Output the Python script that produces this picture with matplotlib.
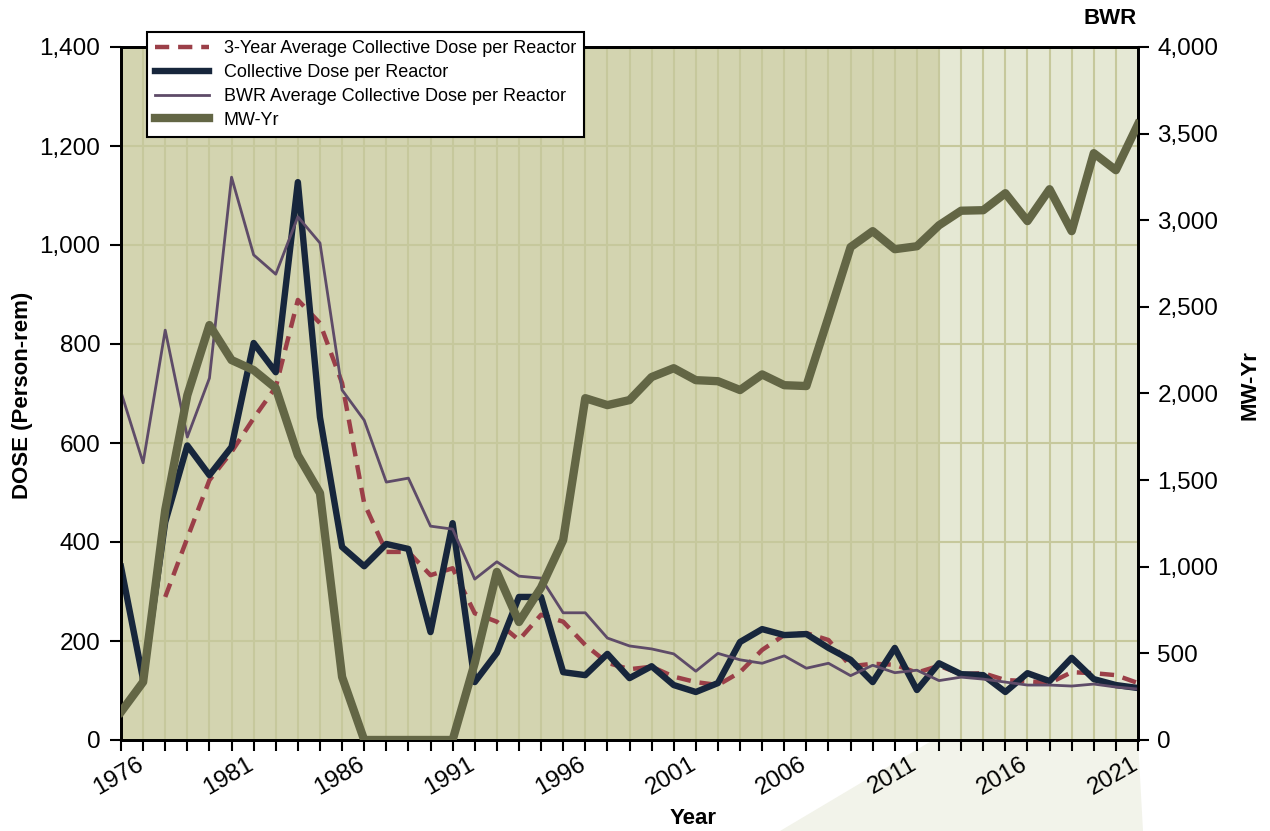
import matplotlib
matplotlib.use('Agg')
import matplotlib.pyplot as plt
from matplotlib.patches import Polygon
from matplotlib.transforms import ScaledTranslation

plt.rcParams['font.family'] = ['Liberation Sans', 'DejaVu Sans']

# 数据 (1975-2021)
years = list(range(1975, 2022))

dose_per_reactor = [350, 122, 440, 595, 535, 592, 802, 743, 1127, 652,
                    390, 351, 396, 386, 218, 438, 117, 176, 289, 289,
                    137, 131, 174, 125, 149, 111, 97, 115, 198, 224,
                    212, 214, 186, 162, 117, 186, 101, 155, 133, 131,
                    97, 135, 119, 166, 123, 111, 105]

bwr_average = [703, 560, 828, 612, 731, 1137, 980, 941, 1057, 1004,
               707, 646, 521, 529, 432, 426, 325, 360, 331, 327,
               257, 257, 206, 190, 184, 174, 139, 175, 162, 155,
               170, 145, 155, 130, 151, 136, 141, 120, 127, 123,
               117, 111, 111, 109, 113, 107, 103]

avg3_years = years[2:]
avg3_dose = [289, 408, 525, 582, 650, 713, 889, 842,
             721, 478, 380, 380, 333, 347, 256, 239, 202, 253,
             239, 192, 156, 143, 148, 128, 117, 111, 137, 182,
             212, 216, 202, 149, 154, 152, 136, 150, 133, 135,
             121, 119, 115, 137, 135, 131, 115]

mw_yr = [162, 335, 1327, 1990, 2395, 2193, 2135, 2031, 1644, 1425,
         364, 0, 0, 0, 0, 0, 444, 970, 681, 880,
         1154, 1973, 1933, 1962, 2095, 2146, 2077, 2071, 2020, 2110,
         2048, 2043, 2441, 2845, 2937, 2833, 2850, 2971, 3055, 3058,
         3156, 2995, 3179, 2937, 3387, 3289, 3554]

label_years = list(range(1976, 2022, 5))
shade_end = 2012

# 画布
fig = plt.figure(figsize=(12.7, 8.31), dpi=100)
ax = fig.add_axes([121 / 1270, 1 - 740 / 831, (1138 - 121) / 1270, (740 - 47) / 831])
ax2 = ax.twinx()

# 右下角的浅色梯形装饰
trap = Polygon([(780 / 1270, 0), (933 / 1270, 1 - 740 / 831),
                (1138 / 1270, 1 - 740 / 831), (1143 / 1270, 0)],
               closed=True, transform=fig.transFigure, facecolor='#F2F3EA',
               edgecolor='none', zorder=-5)
fig.patches.append(trap)

# 背景
ax.set_facecolor('#E5E8D4')
ax.axvspan(years[0], shade_end, color='#D3D4B0', zorder=0, lw=0)
ax.set_axisbelow(True)
ax.grid(True, color='#C6C89C', lw=1.5)

# 主坐标轴的线
l_avg, = ax.plot(avg3_years, avg3_dose, color='#9B3F48', lw=3.2,
                 dashes=(3.2, 2.0), label='3-Year Average Collective Dose per Reactor', zorder=3)
l_dose, = ax.plot(years, dose_per_reactor, color='#17263C', lw=4.6,
                  label='Collective Dose per Reactor', zorder=4)
l_bwr, = ax.plot(years, bwr_average, color='#5E4B68', lw=2,
                 label='BWR Average Collective Dose per Reactor', zorder=5)

# 次坐标轴
l_mw, = ax2.plot(years, mw_yr, color='#636645', lw=6, label='MW-Yr', zorder=3)

ax.set_xlim(years[0], years[-1])
ax.set_ylim(0, 1400)
ax2.set_ylim(0, 4000)
ax.set_yticks(range(0, 1401, 200))
ax2.set_yticks(range(0, 4001, 500))
ax.set_yticklabels(['{:,}'.format(v) for v in range(0, 1401, 200)])
ax2.set_yticklabels(['{:,}'.format(v) for v in range(0, 4001, 500)])

ax.set_xticks(years)
ax.set_xticklabels([str(y) if y in label_years else '' for y in years],
                   rotation=30, ha='right', va='top', rotation_mode='anchor')

for a in (ax, ax2):
    for s in a.spines.values():
        s.set_linewidth(2)
    a.tick_params(direction='out', length=8, width=1.5, labelsize=17.5, colors='black')
ax.tick_params(axis='x', pad=1.5)
ax.tick_params(axis='y', pad=7)
ax2.tick_params(axis='y', pad=6)
ax2.grid(False)

# x 刻度标签稍微左移
shift = ScaledTranslation(-7 / 100, 0, fig.dpi_scale_trans)
for lbl in ax.get_xticklabels():
    lbl.set_transform(lbl.get_transform() + shift)

# 标签
fig.text(23 / 1270, 1 - 395 / 831, 'DOSE (Person-rem)', fontsize=16, fontweight='bold',
         rotation=90, ha='center', va='center')
fig.text(1250 / 1270, 1 - 385 / 831, 'MW-Yr', fontsize=16, fontweight='bold',
         rotation=90, ha='center', va='center')
fig.text(693 / 1270, 1 - 818 / 831, 'Year', fontsize=16, fontweight='bold',
         ha='center', va='center')
fig.text(1110 / 1270, 1 - 18 / 831, 'BWR', fontsize=16, fontweight='bold',
         ha='center', va='center')

leg = ax2.legend(handles=[l_avg, l_dose, l_bwr, l_mw], loc='upper left',
                 bbox_to_anchor=(147 / 1270, 1 - 32 / 831), bbox_transform=fig.transFigure,
                 borderaxespad=0, fontsize=13, fancybox=False, framealpha=1,
                 edgecolor='black', handlelength=3.0, labelspacing=0.38,
                 borderpad=0.45, handletextpad=0.8)
leg.get_frame().set_linewidth(1.5)
leg.set_zorder(10)

fig.savefig('out.png', dpi=100)
